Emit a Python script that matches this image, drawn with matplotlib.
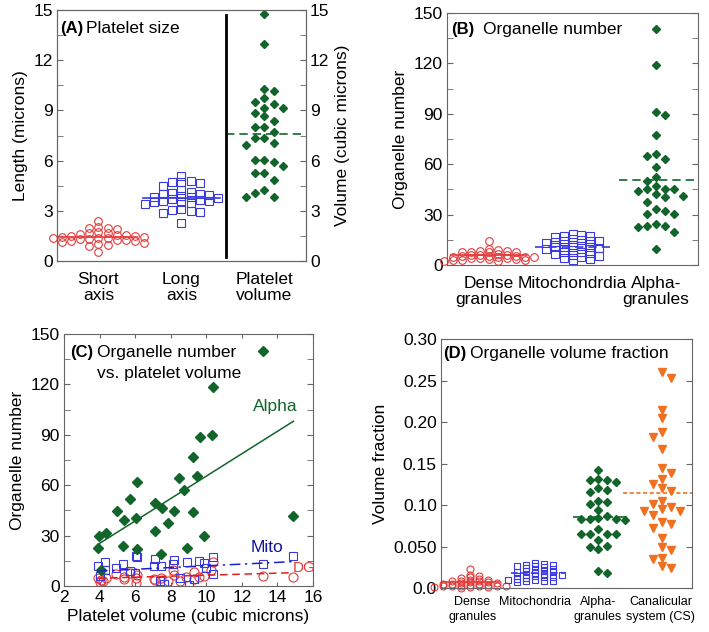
import numpy as np
import matplotlib
matplotlib.use('Agg')
import matplotlib.pyplot as plt
from matplotlib.ticker import MultipleLocator

plt.rcParams['font.family'] = ['Liberation Sans', 'DejaVu Sans']

RED = '#e23b3b'
BLUE = '#3a3ae0'
GREEN = '#12652a'
ORANGE = '#f07022'

# ---- panel A: platelet size (microns / cubic microns)
a_cats = ['Short\naxis', 'Long\naxis', 'Platelet\nvolume']
short_axis = [2.39, 2.05, 1.95, 1.90, 2.00, 1.70, 1.72, 1.65, 1.60, 1.55, 1.55, 1.50,
              1.50, 1.45, 1.45, 1.40, 1.40, 1.35, 1.30, 1.30, 1.25, 1.25, 1.20, 1.20,
              1.15, 1.10, 1.00, 0.95, 0.90, 0.55]
long_axis = [5.10, 4.80, 4.75, 4.70, 4.65, 4.50, 4.25, 4.15, 4.05, 4.00, 4.00, 3.95,
             3.90, 3.85, 3.80, 3.75, 3.70, 3.65, 3.60, 3.60, 3.50, 3.50, 3.45, 3.40,
             3.10, 3.05, 3.00, 2.95, 2.85, 2.25]
platelet_volume = [14.76, 13.0, 10.18, 10.26, 9.72, 9.16, 9.36, 9.52, 9.12, 8.86, 8.67,
                   8.37, 8.03, 8.03, 7.71, 7.37, 7.37, 7.03, 6.93, 6.04, 5.94, 6.04,
                   5.68, 5.24, 5.24, 4.84, 4.24, 3.84, 3.84, 4.04]

# ---- panel B: organelle number
b_cats = ['Dense\ngranules', 'Mitochondrdia', 'Alpha-\ngranules']
dg_number = [14.5, 9.5, 9.0, 8.5, 8.5, 8.0, 8.0, 8.0, 7.5, 6.5, 6.0, 6.0, 6.0, 5.5, 5.5,
             5.5, 5.0, 5.0, 5.0, 4.5, 4.0, 4.0, 3.5, 3.5, 3.0, 3.0, 3.0, 2.5, 2.5, 4.0]
mito_number = [18.5, 18.0, 17.5, 17.0, 16.5, 15.5, 15.0, 14.5, 14.5, 14.0, 13.5, 13.0,
               12.0, 11.5, 11.0, 11.0, 10.5, 10.0, 9.5, 9.0, 8.0, 7.5, 7.0, 6.5, 6.0,
               5.5, 4.5, 4.0, 3.5, 3.0]
alpha_number = [140.7, 119.0, 91.0, 89.2, 77.3, 64.6, 63.0, 66.0, 58.2, 52.6, 50.3,
                45.3, 45.3, 44.3, 45.3, 47.3, 41.3, 40.3, 42.3, 37.4, 33.4, 30.4, 30.4,
                32.4, 23.4, 22.5, 19.5, 23.4, 24.4, 9.5]

# ---- panel C: organelle number vs platelet volume
alpha_c_x = [13.2, 10.35, 9.64, 10.3, 9.26, 9.45, 8.46, 8.74, 6.12, 5.71, 7.11, 7.49,
             4.96, 8.18, 5.37, 6.04, 9.26, 7.82, 7.11, 4.34, 3.97, 9.87, 3.93, 5.33,
             6.08, 7.45, 8.93, 14.88, 4.1]
alpha_c_y = [139.6, 118.2, 88.6, 90.0, 76.7, 65.6, 64.2, 57.2, 62.2, 51.7, 49.7, 46.7,
             44.7, 44.7, 39.3, 40.7, 43.9, 37.4, 32.8, 31.8, 29.8, 29.8, 22.5, 23.8,
             21.9, 19.1, 22.5, 41.7, 9.5]
mito_c_x = [3.9, 4.3, 4.9, 5.3, 6.05, 6.1, 7.1, 7.05, 7.45, 8.1, 8.2, 8.9, 9.6, 9.85,
            10.35, 10.35, 13.2, 14.9, 4.0, 5.7, 7.4, 8.5, 9.3, 6.0, 4.3, 9.0, 7.6, 10.0]
mito_c_y = [12.1, 14.5, 10.9, 12.9, 17.9, 17.0, 15.9, 12.1, 12.1, 12.9, 15.5, 14.1, 15.1,
            13.5, 17.1, 6.9, 12.9, 17.9, 6.0, 9.0, 3.0, 5.0, 4.0, 8.0, 9.5, 0.5, 1.0, 11.0]
dg_c_x = [3.9, 4.0, 4.1, 4.35, 4.95, 5.35, 5.35, 5.7, 6.05, 6.05, 7.05, 7.45, 7.85, 8.1,
          8.2, 8.5, 8.85, 9.3, 9.3, 9.6, 9.85, 10.25, 10.35, 13.2, 14.9, 6.1, 4.2, 7.1]
dg_c_y = [4.6, 2.6, 3.5, 4.6, 7.2, 5.6, 4.0, 7.6, 4.6, 1.6, 4.0, 5.0, 3.0, 9.5, 6.6, 3.0,
          5.6, 8.5, 4.0, 5.6, 6.0, 9.5, 14.1, 6.0, 5.6, 6.5, 3.0, 3.5]
# regression lines: (slope, intercept, x start, x end)
alpha_fit = (6.67, -1.3, 3.9, 14.9)
mito_fit = (0.511, 6.9, 3.85, 14.9)
dg_fit = (0.301, 3.42, 3.9, 14.85)

# ---- panel D: organelle volume fraction
d_cats = ['Dense\ngranules', 'Mitochondria', 'Alpha-\ngranules', 'Canalicular\nsystem (CS)']
dg_frac = [0.023, 0.016, 0.014, 0.013, 0.012, 0.011, 0.010, 0.010, 0.009, 0.008, 0.008,
           0.007, 0.007, 0.006, 0.006, 0.005, 0.005, 0.005, 0.004, 0.004, 0.003, 0.003,
           0.003, 0.002, 0.002, 0.002, 0.001, 0.001, 0.001, 0.000]
mito_frac = [0.030, 0.029, 0.028, 0.028, 0.027, 0.026, 0.025, 0.024, 0.023, 0.022, 0.021,
             0.020, 0.019, 0.019, 0.018, 0.017, 0.016, 0.016, 0.015, 0.014, 0.013, 0.013,
             0.012, 0.011, 0.010, 0.010, 0.009, 0.008, 0.008, 0.007]
alpha_frac = [0.1424, 0.1297, 0.1297, 0.131, 0.128, 0.1199, 0.1154, 0.118, 0.105, 0.101,
              0.094, 0.1035, 0.0847, 0.083, 0.083, 0.082, 0.083, 0.087, 0.0708, 0.0654,
              0.0646, 0.0646, 0.0654, 0.0573, 0.0503, 0.047, 0.049, 0.0205, 0.0184]
cs_frac = [0.2597, 0.2528, 0.2147, 0.2045, 0.188, 0.182, 0.167, 0.1444, 0.1382, 0.131,
           0.1206, 0.1256, 0.1166, 0.1014, 0.0953, 0.0933, 0.0933, 0.0973, 0.105, 0.088,
           0.0769, 0.0798, 0.0724, 0.0605, 0.0499, 0.0458, 0.036, 0.0348, 0.0266, 0.0237]

FS = 12.5


def swarm_offsets(values, dy):
    vals = np.asarray(values, float)
    cols = {}
    ks = np.zeros(len(vals))
    for i in np.argsort(-vals, kind='stable'):
        v = vals[i]
        step = 0
        found = None
        while found is None:
            if step == 0:
                cands = [0]
            else:
                cands = sorted([step, -step], key=lambda c: len(cols.get(c, [])))
            for c in cands:
                if all(abs(v - u) >= dy for u in cols.get(c, [])):
                    found = c
                    break
            step += 1
        cols.setdefault(found, []).append(v)
        ks[i] = found
    return ks


def swarm(ax, center, values, dy, slot, **kw):
    ks = swarm_offsets(values, dy)
    ax.plot(center + ks * slot, values, linestyle='none', clip_on=False, **kw)


def mean_line(ax, center, values, color, ls, hw=0.46, lw=1.2):
    m = np.mean(values)
    ax.plot([center - hw, center + hw], [m, m], color=color, linestyle=ls, lw=lw)


def style(ax):
    for s in ax.spines.values():
        s.set_color('#666666')
        s.set_linewidth(0.8)
    ax.tick_params(axis='both', which='both', direction='in', labelsize=FS,
                   color='#666666', pad=3, length=4)


def panel_title(ax, tag, lines, x_tag, x_text, y, dy=0.08):
    ax.text(x_tag, y, tag, transform=ax.transAxes, fontsize=FS - 0.5,
            fontweight='bold', va='center', ha='left')
    for j, line in enumerate(lines):
        ax.text(x_text, y - j * dy, line, transform=ax.transAxes, fontsize=FS,
                va='center', ha='left')


fig = plt.figure(figsize=(7.09, 6.32), dpi=100)

circ = dict(marker='o', mfc='none', mec=RED, mew=0.8)
sq = dict(marker='s', mfc='none', mec=BLUE, mew=0.8)
dia = dict(marker='D', color=GREEN, mec=GREEN)
tri = dict(marker='v', color=ORANGE, mec=ORANGE)

# ---------------- A
ax = fig.add_axes([0.0804, 0.587, 0.351, 0.397])
style(ax)
ax.set_xlim(0, 3)
ax.set_ylim(0, 15)
swarm(ax, 0.5, short_axis, 0.3, 0.11, ms=5.5, **circ)
swarm(ax, 1.5, long_axis, 0.34, 0.11, ms=5.5, **sq)
swarm(ax, 2.5, platelet_volume, 0.45, 0.112, ms=4.2, **dia)
mean_line(ax, 0.5, short_axis, RED, '-')
mean_line(ax, 1.5, long_axis, BLUE, '-')
mean_line(ax, 2.5, platelet_volume, GREEN, (0, (5, 3)))
ax.plot([2.04, 2.04], [0.26, 14.7], color='k', lw=2)
ax.set_xticks([0.5, 1.5, 2.5])
ax.set_xticklabels(a_cats, fontsize=FS, linespacing=1.1)
ax.tick_params(axis='x', length=0, pad=8)
ax.yaxis.set_major_locator(MultipleLocator(3))
ax.yaxis.set_minor_locator(MultipleLocator(1.5))
ax.tick_params(axis='y', which='both', right=True)
ax.set_ylabel('Length (microns)', fontsize=FS, labelpad=4)
panel_title(ax, '(A)', ['Platelet size'], 0.012, 0.116, 0.928)
ax2 = ax.twinx()
style(ax2)
ax2.set_ylim(0, 15)
ax2.yaxis.set_major_locator(MultipleLocator(3))
ax2.yaxis.set_minor_locator(MultipleLocator(1.5))
ax2.set_ylabel('Volume (cubic microns)', fontsize=FS, labelpad=4)

# ---------------- B
ax = fig.add_axes([0.6305, 0.5807, 0.354, 0.3987])
style(ax)
ax.set_xlim(0, 3)
ax.set_ylim(0, 150)
swarm(ax, 0.5, dg_number, 1.6, 0.107, ms=5.5, **circ)
swarm(ax, 1.5, mito_number, 2.6, 0.107, ms=5.5, **sq)
swarm(ax, 2.5, alpha_number, 5.0, 0.107, ms=4.2, **dia)
mean_line(ax, 0.5, dg_number, RED, '-', hw=0.45)
mean_line(ax, 1.5, mito_number, BLUE, (0, (5, 3)), hw=0.45)
mean_line(ax, 2.5, alpha_number, GREEN, (0, (5, 3)), hw=0.45)
ax.set_xticks([0.5, 1.5, 2.5])
ax.set_xticklabels(b_cats, fontsize=FS, linespacing=1.1)
ax.tick_params(axis='x', length=0, pad=8)
ax.yaxis.set_major_locator(MultipleLocator(30))
ax.yaxis.set_minor_locator(MultipleLocator(15))
ax.tick_params(axis='y', which='both', right=True)
ax.set_ylabel('Organelle number', fontsize=FS, labelpad=4)
panel_title(ax, '(B)', ['Organelle number'], 0.015, 0.145, 0.935)

# ---------------- C
ax = fig.add_axes([0.0903, 0.0728, 0.3512, 0.3987])
style(ax)
ax.set_xlim(2, 16)
ax.set_ylim(0, 150)
ax.plot(dg_c_x, dg_c_y, linestyle='none', ms=6.5, **circ)
ax.plot(mito_c_x, mito_c_y, linestyle='none', ms=6, **sq)
ax.plot(alpha_c_x, alpha_c_y, linestyle='none', ms=4.6, **dia)
for (k, b, x0, x1), col, ls in [(alpha_fit, GREEN, '-'),
                                (mito_fit, '#1f1fd0', (0, (7, 3, 1.5, 3))),
                                (dg_fit, '#e02020', (0, (5, 3)))]:
    xs = np.array([x0, x1])
    ax.plot(xs, k * xs + b, color=col, linestyle=ls, lw=1.1)
ax.text(13.9, 107, 'Alpha', color=GREEN, fontsize=FS, ha='center', va='center')
ax.text(13.4, 23, 'Mito', color='#14149a', fontsize=FS, ha='center', va='center')
ax.text(15.5, 11, 'DG', color=RED, fontsize=11, ha='center', va='center')
ax.xaxis.set_major_locator(MultipleLocator(2))
ax.yaxis.set_major_locator(MultipleLocator(30))
ax.yaxis.set_minor_locator(MultipleLocator(15))
ax.tick_params(axis='y', which='both', right=True)
ax.tick_params(axis='x', which='both', top=True, length=3)
ax.set_ylabel('Organelle number', fontsize=FS, labelpad=4)
ax.set_xlabel('Platelet volume (cubic microns)', fontsize=FS, labelpad=3)
panel_title(ax, '(C)', ['Organelle number', 'vs. platelet volume'],
            0.024, 0.133, 0.925, dy=0.08)

# ---------------- D
ax = fig.add_axes([0.622, 0.0696, 0.354, 0.394])
style(ax)
ax.set_xlim(0, 4)
ax.set_ylim(0, 0.30)
swarm(ax, 0.46, dg_frac, 0.0028, 0.143, ms=5, **circ)
swarm(ax, 1.5, mito_frac, 0.0032, 0.143, ms=5, **sq)
swarm(ax, 2.51, alpha_frac, 0.0085, 0.143, ms=4.2, **dia)
swarm(ax, 3.52, cs_frac, 0.0085, 0.143, ms=5.5, **tri)
mean_line(ax, 0.47, dg_frac, RED, '-', hw=0.45)
mean_line(ax, 1.55, mito_frac, BLUE, (0, (4, 2)), hw=0.43)
mean_line(ax, 2.53, alpha_frac, GREEN, (0, (6, 3)), hw=0.43)
mean_line(ax, 3.45, cs_frac, ORANGE, (0, (2.5, 1.5)), hw=0.55)
ax.set_xticks([0.5, 1.5, 2.5, 3.5])
ax.set_xticklabels(d_cats, fontsize=9, linespacing=1.3)
ax.tick_params(axis='x', length=0, pad=6)
ax.set_yticks([0, 0.05, 0.10, 0.15, 0.20, 0.25, 0.30])
ax.set_yticklabels(['0.0', '0.050', '0.10', '0.15', '0.20', '0.25', '0.30'])
ax.tick_params(axis='y', which='both', right=True)
ax.set_ylabel('Volume fraction', fontsize=FS, labelpad=4)
panel_title(ax, '(D)', ['Organelle volume fraction'], 0.007, 0.116, 0.943)

fig.savefig('out.png', dpi=100)
